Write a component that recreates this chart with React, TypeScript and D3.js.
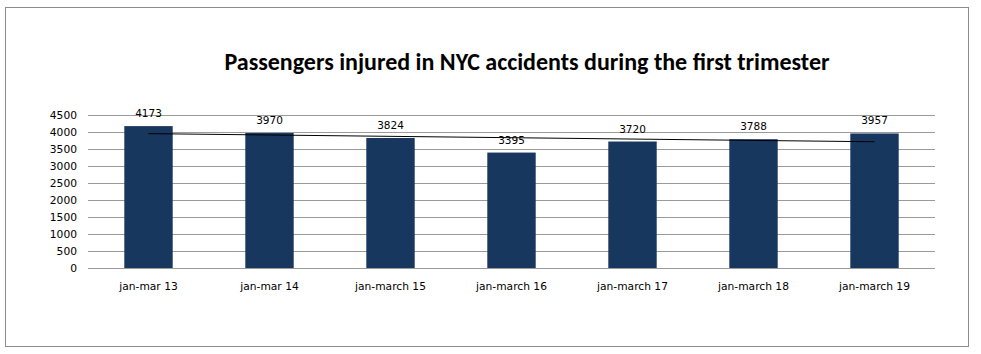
import { useEffect, useRef } from "react";
import * as d3 from "d3";

const categories = [
  "jan-mar 13",
  "jan-mar 14",
  "jan-march 15",
  "jan-march 16",
  "jan-march 17",
  "jan-march 18",
  "jan-march 19",
];
const injured = [4173, 3970, 3824, 3395, 3720, 3788, 3957];
const yTicks = [0, 500, 1000, 1500, 2000, 2500, 3000, 3500, 4000, 4500];

export default function App() {
  const ref = useRef<SVGSVGElement>(null);

  useEffect(() => {
    if (!ref.current) return;
    const W = 981;
    const H = 354;
    const margin = { top: 115, right: 46, bottom: 86, left: 88 };
    const width = W - margin.left - margin.right;
    const height = H - margin.top - margin.bottom;
    const titleFont = "Calibri, Carlito, 'Liberation Sans', sans-serif";
    const font = "'DejaVu Sans', Verdana, sans-serif";

    const svg = d3.select(ref.current);
    svg.selectAll("*").remove();
    svg.attr("width", W).attr("height", H);

    svg
      .append("rect")
      .attr("x", 5.5)
      .attr("y", 7.5)
      .attr("width", 963)
      .attr("height", 339)
      .attr("fill", "#fff")
      .attr("stroke", "#8c8c8c");

    svg
      .append("text")
      .attr("x", 527)
      .attr("y", 70)
      .attr("text-anchor", "middle")
      .style("font-family", titleFont)
      .style("font-size", "24px")
      .style("font-weight", "bold")
      .attr("fill", "#000")
      .text("Passengers injured in NYC accidents during the first trimester");

    const g = svg.append("g").attr("transform", `translate(${margin.left},${margin.top})`);

    const x = d3.scaleBand().domain(categories).range([0, width]).paddingInner(0.6).paddingOuter(0.3);
    const y = d3.scaleLinear().domain([0, 4500]).range([height, 0]);

    // gridlines
    g.selectAll("line.grid")
      .data(yTicks)
      .enter()
      .append("line")
      .attr("x1", 0)
      .attr("x2", width)
      .attr("y1", (d) => Math.round(y(d)) + 0.5)
      .attr("y2", (d) => Math.round(y(d)) + 0.5)
      .attr("stroke", "#9a9a9a")
      .attr("stroke-width", 1);

    // y labels
    g.selectAll("text.ytick")
      .data(yTicks)
      .enter()
      .append("text")
      .attr("x", -11)
      .attr("y", (d) => y(d) + 4)
      .attr("text-anchor", "end")
      .style("font-family", font)
      .style("font-size", "10.7px")
      .attr("fill", "#000")
      .text((d) => d);

    // bars
    g.selectAll("rect.bar")
      .data(injured)
      .enter()
      .append("rect")
      .attr("x", (d, i) => x(categories[i])!)
      .attr("y", (d) => y(d))
      .attr("width", x.bandwidth())
      .attr("height", (d) => height - y(d))
      .attr("fill", "#17375e");

    // value labels
    g.selectAll("text.val")
      .data(injured)
      .enter()
      .append("text")
      .attr("x", (d, i) => x(categories[i])! + x.bandwidth() / 2)
      .attr("y", (d) => y(d) - 9)
      .attr("text-anchor", "middle")
      .style("font-family", font)
      .style("font-size", "10.5px")
      .attr("fill", "#000")
      .text((d) => d);

    // category labels
    g.selectAll("text.cat")
      .data(categories)
      .enter()
      .append("text")
      .attr("x", (d) => x(d)! + x.bandwidth() / 2)
      .attr("y", height + 22)
      .attr("text-anchor", "middle")
      .style("font-family", font)
      .style("font-size", "10.7px")
      .attr("fill", "#000")
      .text((d) => d);

    // linear trendline
    const n = injured.length;
    const xs = d3.range(1, n + 1);
    const mx = d3.mean(xs)!;
    const my = d3.mean(injured)!;
    const slope =
      d3.sum(xs, (v, i) => (v - mx) * (injured[i] - my)) / d3.sum(xs, (v) => (v - mx) ** 2);
    const trend = (v: number) => my + slope * (v - mx);
    const cx = (i: number) => x(categories[i])! + x.bandwidth() / 2;

    g.append("line")
      .attr("x1", cx(0))
      .attr("x2", cx(n - 1))
      .attr("y1", y(trend(1)))
      .attr("y2", y(trend(n)))
      .attr("stroke", "#000")
      .attr("stroke-width", 1);
  }, []);

  return <svg ref={ref} style={{ position: "absolute", left: 0, top: 0 }} />;
}
